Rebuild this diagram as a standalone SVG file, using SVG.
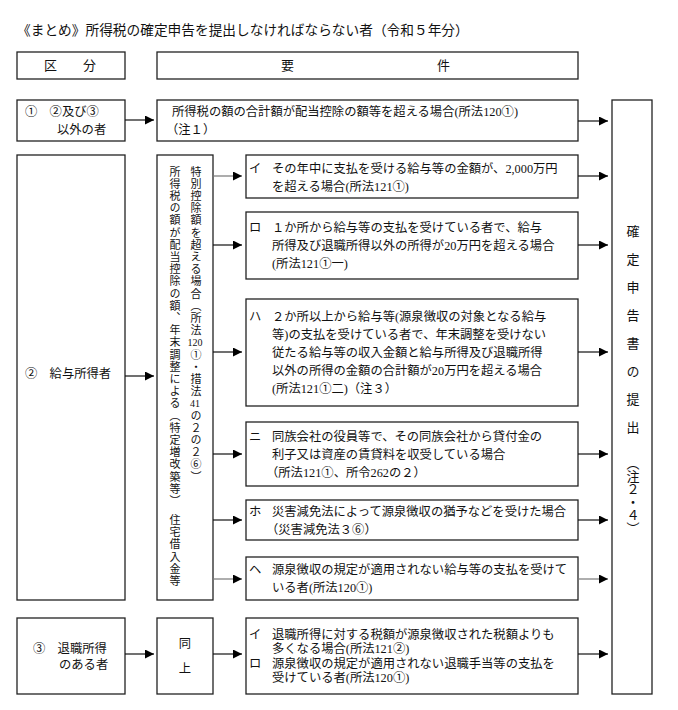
<svg xmlns="http://www.w3.org/2000/svg" width="678" height="710" viewBox="0 0 678 710">
<defs>
<marker id="ah" viewBox="0 0 10 10" refX="10" refY="5" markerWidth="10" markerHeight="9" markerUnits="userSpaceOnUse" orient="auto">
<path d="M0,0 L10,5 L0,10 z" fill="#000"/>
</marker>
</defs>
<style>
text{font-family:"Liberation Serif","Noto Sans CJK JP",serif;font-size:12.3px;fill:#111}
.t{font-size:13.7px}
.h{font-size:13px}
rect.b{fill:#fff;stroke:#222;stroke-width:1.3}
.c line{stroke:#111;stroke-width:1.2;marker-end:url(#ah)}
.c line.g{stroke:#777}
.v{writing-mode:vertical-rl;font-size:11px;letter-spacing:1.2px}
.n{font-size:10px;text-anchor:middle}
.r{writing-mode:vertical-rl;font-size:13px}
.m{text-anchor:middle}
</style>
<rect width="678" height="710" fill="#fff"/>
<text class="t" x="17" y="35">《まとめ》所得税の確定申告を提出しなければならない者（令和５年分）</text>

<g id="head-kubun"><rect class="b" x="17" y="52" width="108" height="27"/><text class="h" y="70"><tspan x="44">区</tspan><tspan x="83">分</tspan></text></g>
<g id="head-yoken"><rect class="b" x="157" y="52" width="421" height="27"/><text class="h" y="70"><tspan x="281">要</tspan><tspan x="437">件</tspan></text></g>

<g id="cat1"><rect class="b" x="17" y="100" width="108" height="41"/><text x="25" y="116">①　②及び③</text><text x="57" y="134">以外の者</text></g>
<g id="req1"><rect class="b" x="157" y="100" width="421" height="41"/><text x="172" y="116">所得税の額の合計額が配当控除の額等を超える場合(所法120①)</text><text x="166" y="134">（注１）</text></g>

<g id="result"><rect class="b" x="612" y="100" width="40" height="594"/><text class="r" x="632" y="225" style="letter-spacing:15px">確定申告書の提出</text><text class="r" x="632" y="457">（注２・４）</text></g>

<g id="cat2"><rect class="b" x="17" y="155" width="108" height="445"/><text x="25" y="378">②　給与所得者</text></g>
<g id="cond2"><rect class="b" x="157" y="155" width="56" height="445"/>
<text class="v" x="174" y="166">所得税の額が配当控除の額、年末調整による（特定増改築等）　住宅借入金等</text>
<text class="v" x="195" y="166">特別控除額を超える場合（所法</text>
<text class="n" x="195" y="346">120</text>
<text class="v" x="195" y="349">①・措法</text>
<text class="n" x="195" y="407">41</text>
<text class="v" x="195" y="410">の２の２⑥）</text>
</g>

<g id="req2-i"><rect class="b" x="246" y="155" width="332" height="43"/><text x="249" y="173">イ</text><text x="272" y="173">その年中に支払を受ける給与等の金額が、2,000万円</text><text x="272" y="191">を超える場合(所法121①)</text></g>
<g id="req2-ro"><rect class="b" x="246" y="212" width="332" height="67"/><text x="249" y="232">ロ</text><text x="272" y="232">１か所から給与等の支払を受けている者で、給与</text><text x="272" y="250">所得及び退職所得以外の所得が20万円を超える場合</text><text x="272" y="268">(所法121①一)</text></g>
<g id="req2-ha"><rect class="b" x="246" y="299" width="332" height="107"/><text x="249" y="321">ハ</text><text x="272" y="321">２か所以上から給与等(源泉徴収の対象となる給与</text><text x="272" y="339">等)の支払を受けている者で、年末調整を受けない</text><text x="272" y="357">従たる給与等の収入金額と給与所得及び退職所得</text><text x="272" y="375">以外の所得の金額の合計額が20万円を超える場合</text><text x="272" y="393">(所法121①二)（注３）</text></g>
<g id="req2-ni"><rect class="b" x="246" y="422" width="332" height="64"/><text x="249" y="440.5">ニ</text><text x="272" y="440.5">同族会社の役員等で、その同族会社から貸付金の</text><text x="272" y="458.5">利子又は資産の賃貸料を収受している場合</text><text x="266" y="476.5">（所法121①、所令262の２）</text></g>
<g id="req2-ho"><rect class="b" x="246" y="500" width="332" height="40"/><text x="249" y="515.5">ホ</text><text x="272" y="515.5">災害減免法によって源泉徴収の猶予などを受けた場合</text><text x="266" y="533.5">（災害減免法３⑥）</text></g>
<g id="req2-he"><rect class="b" x="246" y="557" width="332" height="43"/><text x="249" y="574">ヘ</text><text x="272" y="574">源泉徴収の規定が適用されない給与等の支払を受けて</text><text x="272" y="592">いる者(所法120①)</text></g>

<g id="cat3"><rect class="b" x="17" y="618" width="108" height="76"/><text x="33" y="653">③　退職所得</text><text x="59" y="668.5">のある者</text></g>
<g id="cond3"><rect class="b" x="157" y="618" width="56" height="76"/><text class="m" x="185" y="647.5">同</text><text class="m" x="185" y="672.5">上</text></g>
<g id="req3"><rect class="b" x="246" y="618" width="332" height="76"/><text x="249" y="638.5">イ</text><text x="272" y="638.5">退職所得に対する税額が源泉徴収された税額よりも</text><text x="272" y="653">多くなる場合(所法121②)</text><text x="249" y="667.5">ロ</text><text x="272" y="667.5">源泉徴収の規定が適用されない退職手当等の支払を</text><text x="272" y="682">受けている者(所法120①)</text></g>

<g id="connectors" class="c">
<line x1="125" y1="120" x2="154" y2="120"/>
<line x1="578" y1="121" x2="608" y2="121"/>
<line x1="125" y1="376" x2="154" y2="376"/>
<line class="g" x1="213" y1="176" x2="242" y2="176"/>
<line x1="213" y1="245" x2="242" y2="245"/>
<line x1="213" y1="352" x2="242" y2="352"/>
<line x1="213" y1="454" x2="242" y2="454"/>
<line x1="213" y1="520" x2="242" y2="520"/>
<line class="g" x1="213" y1="579" x2="242" y2="579"/>
<line x1="578" y1="176" x2="608" y2="176"/>
<line x1="578" y1="245" x2="608" y2="245"/>
<line x1="578" y1="352" x2="608" y2="352"/>
<line x1="578" y1="454" x2="608" y2="454"/>
<line x1="578" y1="520" x2="608" y2="520"/>
<line class="g" x1="578" y1="579" x2="608" y2="579"/>
<line x1="125" y1="654" x2="154" y2="654"/>
<line x1="213" y1="654" x2="242" y2="654"/>
<line x1="578" y1="654" x2="608" y2="654"/>
</g>
</svg>
